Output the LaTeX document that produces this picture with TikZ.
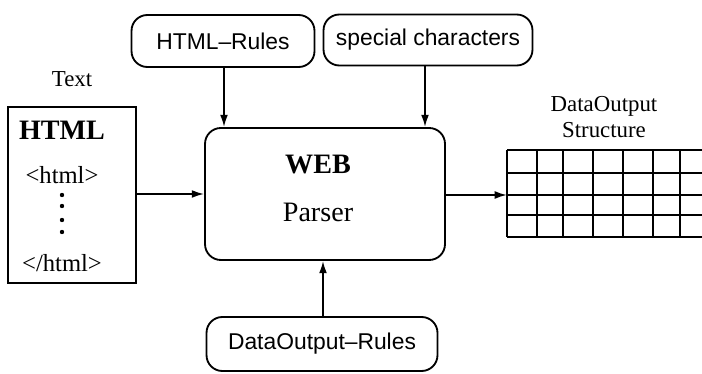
\documentclass[tikz,border=0pt]{standalone}
\usepackage{fontspec}
\setmainfont{Liberation Serif}
\setsansfont{Liberation Sans}
\usetikzlibrary{arrows.meta, positioning}

\begin{document}
\begin{tikzpicture}[x=0.02cm, y=-0.02cm, line width=1.05pt,
                rulebox/.style={
                  draw, rounded corners=9pt, font=\sffamily\fontsize{13}{15}\selectfont,
                  minimum width=#1, inner sep=0pt
                },
                rulebox/.default=3.66cm,
                flow/.style={-{Latex[length=7pt,width=4.5pt]}},
                caption/.style={font=\fontsize{13}{15}\selectfont, align=center}
              ]
              \useasboundingbox (0,0) rectangle (702,374);
              % rules feeding the parser
              \node [rulebox=3.66cm, minimum height=1.04cm] at (223,41) (hrules) {HTML--Rules};
              \node [rulebox=4.18cm, minimum height=1.02cm] at (428,40) (spchars) {special characters};
              \node [rulebox=4.62cm, minimum height=1.08cm] at (322,344) (drules) {DataOutput--Rules};
              % the parser itself
              \node [draw, rounded corners=9pt, minimum width=4.8cm, minimum height=2.64cm,
                     inner sep=0pt] at (325,194) (parser) {};
              \node [font=\bfseries\fontsize{16}{18}\selectfont] at (318,165) (web) {WEB};
              \node [font=\fontsize{16}{18}\selectfont] at (318,212) (pname) {Parser};
              % html input
              \node [draw, minimum width=2.56cm, minimum height=3.52cm, inner sep=0pt]
                    at (72,195) (html) {};
              \node [caption, above=0.7em of html] (txt) {Text};
              \node [font=\bfseries\fontsize{16}{18}\selectfont] at (62,130) (htag) {HTML};
              \node [font=\fontsize{14}{16}\selectfont] at (62,175) (open) {<html>};
              \node [font=\fontsize{14}{16}\selectfont] at (62,263) (close) {</html>};
              \foreach \y in {195,206,220,232}
                \fill (62,\y) circle (2.2);
              % output table
              \coordinate (tbl) at (507,195);
              \node [caption] at (604,117) (dstruct) {DataOutput\\Structure};
              \foreach \y in {150,173,195,215,237}
                \draw (507,\y) -- (702,\y);
              \foreach \x in {507,537,563,593,623,653,680}
                \draw (\x,150) -- (\x,237);
              % connectors
              \draw [flow] (hrules.south -| 224,0) -- (parser.north -| 224,0);
              \draw [flow] (spchars.south -| 425,0) -- (parser.north -| 425,0);
              \draw [flow] (drules.north -| 323,0) -- (parser.south -| 323,0);
              \draw [flow] (html.east |- 0,194) -- (parser.west |- 0,194);
              \draw [flow] (parser.east |- tbl) -- (tbl);
\end{tikzpicture}
\end{document}
